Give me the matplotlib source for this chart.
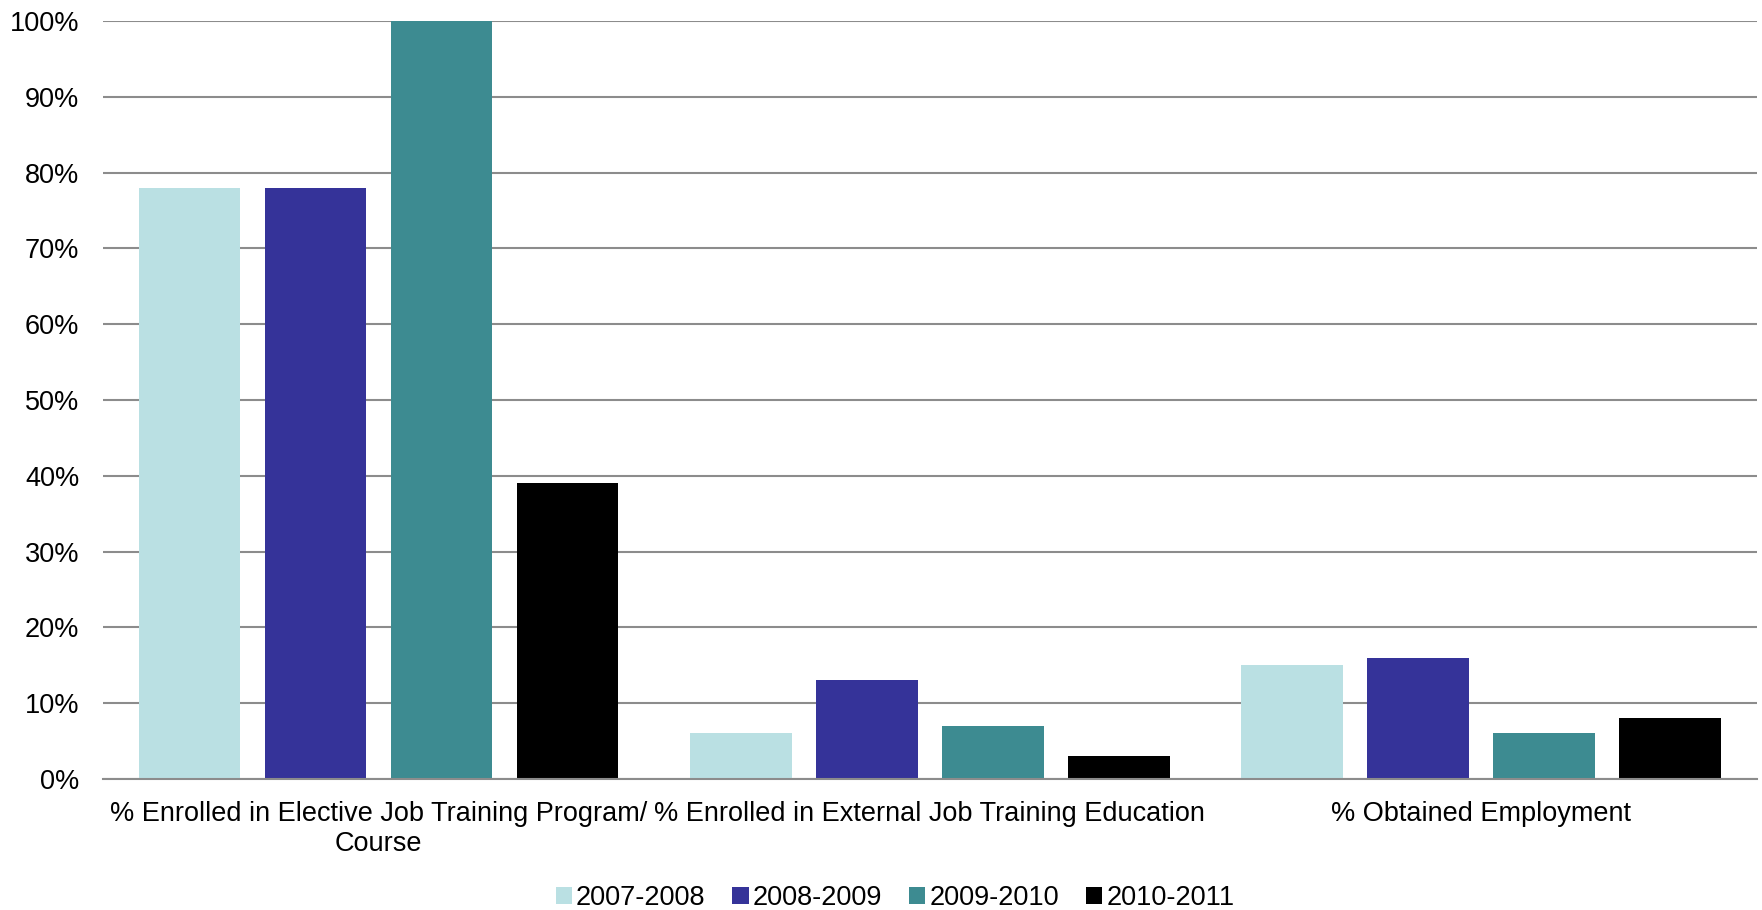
import matplotlib
matplotlib.use("Agg")
import matplotlib.pyplot as plt
import numpy as np
from matplotlib.ticker import PercentFormatter

plt.rcParams['font.family'] = ['Liberation Sans', 'DejaVu Sans']

categories = ["% Enrolled in Elective Job Training Program/\nCourse",
              "% Enrolled in External Job Training Education",
              "% Obtained Employment"]
series_names = ["2007-2008", "2008-2009", "2009-2010", "2010-2011"]
v0708 = [78, 6, 15]
v0809 = [78, 13, 16]
v0910 = [100, 7, 6]
v1011 = [39, 3, 8]
series = [v0708, v0809, v0910, v1011]
colors = ["#BAE0E3", "#353399", "#3D8B91", "#000000"]
yticks = list(range(0, 101, 10))

fig = plt.figure(figsize=(17.62, 9.10), dpi=100)
ax = fig.add_axes([0.0585, 0.144, 0.9385, 0.833])

x = np.arange(len(categories))
width = 0.184
step = 0.2285
for i, (vals, c, name) in enumerate(zip(series, colors, series_names)):
    ax.bar(x + (i - 1.5) * step, vals, width=width, color=c, label=name, zorder=3)

ax.set_xlim(-0.5, len(categories) - 0.5)
ax.set_ylim(0, 100)
ax.set_yticks(yticks)
ax.yaxis.set_major_formatter(PercentFormatter(decimals=0))
ax.grid(axis='y', color='#8C8C8C', linewidth=1.5, zorder=0)
ax.set_axisbelow(True)
for s in ['left', 'right', 'top']:
    ax.spines[s].set_visible(False)
ax.spines['bottom'].set_color('#8C8C8C')
ax.spines['bottom'].set_linewidth(1.5)
ax.spines['bottom'].set_zorder(4)
ax.tick_params(axis='both', length=0, labelsize=19.5, colors='black')
ax.tick_params(axis='x', pad=16)
ax.tick_params(axis='y', pad=17)
ax.set_xticks(x)
ax.set_xticklabels(categories, linespacing=1.18)

leg = fig.legend(loc='lower center', ncol=4, bbox_to_anchor=(0.508, -0.028), frameon=False,
                 fontsize=19.5, handlelength=0.6, handleheight=0.6, handletextpad=0.15,
                 columnspacing=1.0)

fig.savefig("out.png", dpi=100)
